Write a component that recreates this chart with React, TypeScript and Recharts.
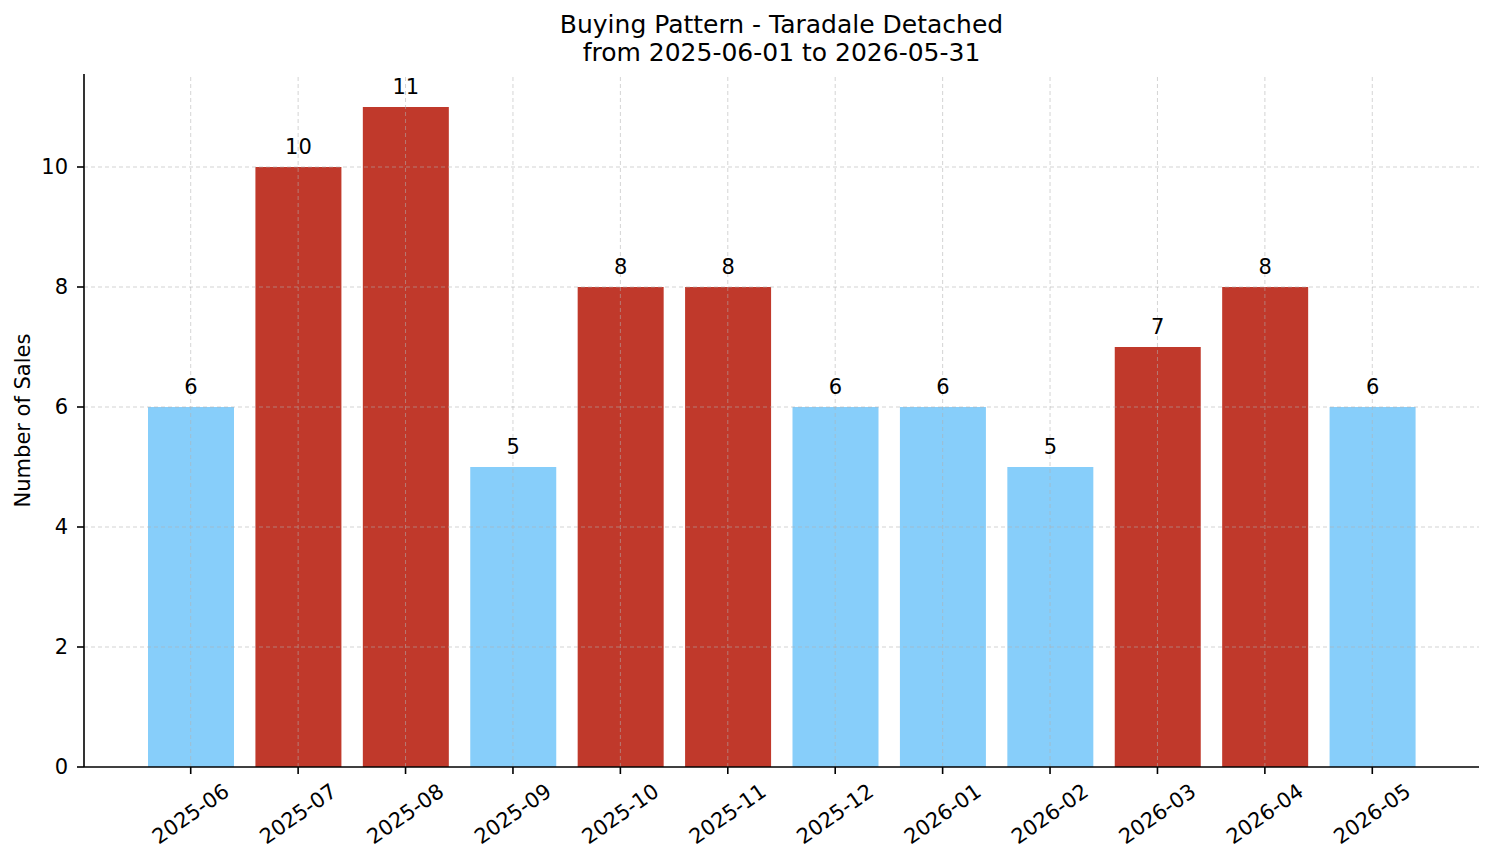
import React from 'react';
import { BarChart, Bar, XAxis, YAxis, Cell, LabelList, Label, ReferenceLine } from 'recharts';

const months = [
  '2025-06', '2025-07', '2025-08', '2025-09', '2025-10', '2025-11',
  '2025-12', '2026-01', '2026-02', '2026-03', '2026-04', '2026-05',
];
const sales = [6, 10, 11, 5, 8, 8, 6, 6, 5, 7, 8, 6];
const yTicks = [0, 2, 4, 6, 8, 10];

const HIGH = '#c0392b';
const LOW = '#87cefa';
const FONT = '"DejaVu Sans", sans-serif';

// above the median -> red, otherwise light blue
const sorted = [...sales].sort((a, b) => a - b);
const median = (sorted[5] + sorted[6]) / 2;
const data = months.map((m, i) => ({ month: m, sales: sales[i] }));

const gridStyle = { stroke: '#b0b0b0', strokeOpacity: 0.55, strokeDasharray: '4 3', strokeWidth: 1 };

const RotatedTick = ({ x, y, payload }: any) => {
  const cy = y + 38;
  return (
    <text
      x={x}
      y={cy}
      textAnchor="middle"
      dominantBaseline="central"
      fontSize={21}
      fontFamily={FONT}
      fill="#000"
      transform={`rotate(-35, ${x}, ${cy})`}
    >
      {payload.value}
    </text>
  );
};

export default function App() {
  return (
    <div style={{ position: 'absolute', left: 0, top: 0, width: 1494, height: 863, background: '#fff', fontFamily: FONT }}>
      <div
        style={{
          position: 'absolute',
          left: 84,
          width: 1395,
          top: 11,
          textAlign: 'center',
          fontSize: 25,
          lineHeight: '28px',
          color: '#000',
        }}
      >
        Buying Pattern - Taradale Detached
        <br />
        from 2025-06-01 to 2026-05-31
      </div>
      <BarChart
        width={1494}
        height={863}
        data={data}
        margin={{ top: 74, right: 15, left: 0, bottom: 0 }}
      >
        <XAxis
          dataKey="month"
          height={96}
          padding={{ left: 53, right: 53 }}
          tick={<RotatedTick />}
          tickSize={7}
          interval={0}
          axisLine={{ stroke: '#000', strokeWidth: 1.6 }}
          tickLine={{ stroke: '#000', strokeWidth: 1.6 }}
        />
        <YAxis
          width={84}
          domain={[0, 11.55]}
          ticks={yTicks}
          allowDataOverflow
          tickSize={7}
          tickMargin={9}
          axisLine={{ stroke: '#000', strokeWidth: 1.6 }}
          tickLine={{ stroke: '#000', strokeWidth: 1.6 }}
          tick={{ fontSize: 21, fontFamily: FONT, fill: '#000' }}
        >
          <Label
            value="Number of Sales"
            angle={-90}
            position="insideLeft"
            offset={23}
            style={{ fontSize: 21, fontFamily: FONT, fill: '#000', textAnchor: 'middle' }}
          />
        </YAxis>
        <Bar dataKey="sales" barSize={86} isAnimationActive={false}>
          {data.map((d, i) => (
            <Cell key={`cell-${i}`} fill={d.sales > median ? HIGH : LOW} />
          ))}
          <LabelList
            dataKey="sales"
            position="top"
            offset={13}
            style={{ fontSize: 21, fontFamily: FONT, fill: '#000' }}
          />
        </Bar>
        {yTicks.filter((t) => t > 0).map((t) => (
          <ReferenceLine key={`hy-${t}`} y={t} {...gridStyle} />
        ))}
        {months.map((m) => (
          <ReferenceLine key={`vx-${m}`} x={m} {...gridStyle} />
        ))}
      </BarChart>
    </div>
  );
}
